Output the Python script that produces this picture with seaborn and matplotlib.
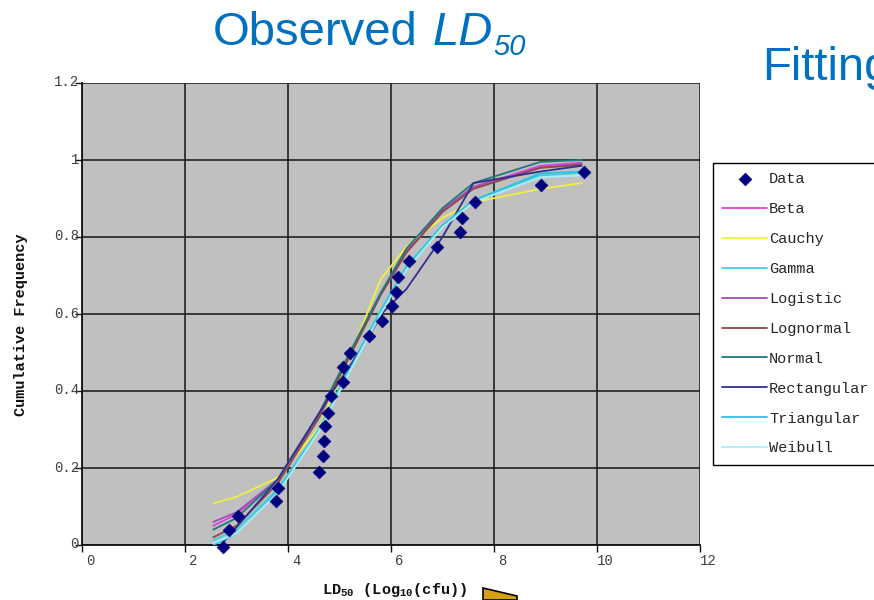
import matplotlib
matplotlib.use("Agg")
import matplotlib.pyplot as plt
import matplotlib.transforms as mtransforms
from matplotlib.patches import Polygon
import seaborn as sns
import pandas as pd

# ---------------- data ----------------
data_x = [2.73, 2.85, 3.02, 3.77, 3.81, 4.60, 4.67, 4.69, 4.71, 4.77, 4.83, 5.07, 5.07,
          5.21, 5.57, 5.83, 6.01, 6.10, 6.14, 6.34, 6.89, 7.34, 7.37, 7.63, 8.91, 9.75]
data_y = [-0.005, 0.039, 0.075, 0.114, 0.149, 0.190, 0.230, 0.270, 0.310, 0.344, 0.387, 0.424, 0.463,
          0.500, 0.543, 0.582, 0.620, 0.658, 0.695, 0.738, 0.775, 0.814, 0.850, 0.892, 0.934, 0.969]

fit_x = [2.55, 3.0, 3.8, 4.6, 5.2, 5.8, 6.3, 7.0, 7.6, 8.9, 9.7]
beta_y = [0.050, 0.080, 0.170, 0.335, 0.495, 0.650, 0.765, 0.870, 0.930, 0.985, 0.993]
cauchy_y = [0.108, 0.125, 0.175, 0.305, 0.490, 0.690, 0.775, 0.850, 0.890, 0.925, 0.940]
gamma_y = [0.012, 0.040, 0.145, 0.300, 0.460, 0.610, 0.725, 0.830, 0.895, 0.960, 0.967]
logistic_y = [0.060, 0.085, 0.170, 0.340, 0.495, 0.650, 0.760, 0.870, 0.930, 0.980, 0.990]
lognormal_y = [0.020, 0.050, 0.160, 0.330, 0.490, 0.650, 0.760, 0.865, 0.925, 0.980, 0.987]
normal_y = [0.040, 0.070, 0.170, 0.340, 0.500, 0.655, 0.770, 0.875, 0.940, 0.995, 1.000]
triangular_y = [0.000, 0.030, 0.140, 0.300, 0.455, 0.605, 0.720, 0.830, 0.895, 0.965, 0.970]
weibull_y = [0.005, 0.030, 0.135, 0.295, 0.450, 0.600, 0.715, 0.825, 0.890, 0.955, 0.960]
rect_x = [2.7, 3.8, 4.8, 5.4, 5.85, 6.3, 7.0, 7.6, 8.9, 9.7]
rect_y = [0.000, 0.170, 0.385, 0.505, 0.605, 0.665, 0.800, 0.940, 0.970, 0.985]

dist_names = ["Beta", "Cauchy", "Gamma", "Logistic", "Lognormal", "Normal",
              "Rectangular", "Triangular", "Weibull"]
dist_colors = ["#e040e0", "#f0f040", "#40d0e0", "#a050b0", "#904848", "#207878",
               "#303090", "#30c0e0", "#a8f0f8"]

x_ticks = [0, 2, 4, 6, 8, 10, 12]
x_tick_labels = ["0", "2", "4", "6", "8", "10", "12"]
y_ticks = [0, 0.2, 0.4, 0.6, 0.8, 1.0, 1.2]
y_tick_labels = ["0", "0.2", "0.4", "0.6", "0.8", "1", "1.2"]

# ---------------- style ----------------
sns.set_theme(style="white")
plt.rcParams["font.family"] = ["Liberation Mono", "DejaVu Sans"]
plt.rcParams["mathtext.fontset"] = "custom"
plt.rcParams["mathtext.rm"] = "Liberation Mono:bold"
plt.rcParams["mathtext.bf"] = "Liberation Mono:bold"
plt.rcParams["mathtext.it"] = "Liberation Mono:bold"

W, H = 874, 600
fig = plt.figure(figsize=(W / 100, H / 100), dpi=100)
ax = fig.add_axes([82 / W, 55 / H, 618 / W, 462 / H])
ax.set_facecolor("#c0c0c0")

curves = {
    "Beta": (fit_x, beta_y), "Cauchy": (fit_x, cauchy_y), "Gamma": (fit_x, gamma_y),
    "Logistic": (fit_x, logistic_y), "Lognormal": (fit_x, lognormal_y),
    "Normal": (fit_x, normal_y), "Rectangular": (rect_x, rect_y),
    "Triangular": (fit_x, triangular_y), "Weibull": (fit_x, weibull_y),
}

sns.scatterplot(x=data_x, y=data_y, marker="D", s=42, color="#000080",
                edgecolor="#000080", linewidth=0.5, ax=ax, label="Data",
                zorder=6, clip_on=False)
for name, col in zip(dist_names, dist_colors):
    xs, ys = curves[name]
    df = pd.DataFrame({"x": xs, "y": ys})
    sns.lineplot(data=df, x="x", y="y", color=col, lw=1.3, ax=ax, label=name,
                 sort=False, zorder=4)

ax.set_xlim(0, 12)
ax.set_ylim(0, 1.2)
ax.set_xticks(x_ticks)
ax.set_xticklabels(x_tick_labels)
ax.set_yticks(y_ticks)
ax.set_yticklabels(y_tick_labels)
ax.grid(True, color="#222222", lw=1.2)
ax.set_axisbelow(True)
for s in ["top", "right"]:
    ax.spines[s].set_visible(False)
for s in ["left", "bottom"]:
    ax.spines[s].set_color("#111111")
    ax.spines[s].set_linewidth(1.3)
ax.tick_params(axis="both", which="major", direction="out", length=5, width=1,
               color="#111111", labelsize=10, labelcolor="#404040", pad=1.5,
               bottom=True, left=True)
offset = mtransforms.ScaledTranslation(8 / 100, 0, fig.dpi_scale_trans)
for lab in ax.get_xticklabels():
    lab.set_transform(lab.get_transform() + offset)
yoff = mtransforms.ScaledTranslation(6 / 100, 2 / 100, fig.dpi_scale_trans)
for lab in ax.get_yticklabels():
    lab.set_transform(lab.get_transform() + yoff)

ax.set_xlabel("LD$_{50}$ (Log$_{10}$(cfu))", fontsize=11, fontweight="bold",
              color="#111111")
ax.xaxis.set_label_coords(0.505, -0.078)
ax.set_ylabel("Cumulative Frequency", fontsize=11, fontweight="bold", color="#111111")
ax.yaxis.set_label_coords(-0.088, 0.476)

handles, labels = ax.get_legend_handles_labels()
leg = ax.legend(handles, labels, loc="upper left",
                bbox_to_anchor=(713 / W, 1 - 163 / H), bbox_transform=fig.transFigure,
                frameon=True, fancybox=False, edgecolor="black", facecolor="white",
                framealpha=1, borderaxespad=0, handlelength=2.9, handletextpad=0.15,
                labelspacing=1.04, fontsize=11, borderpad=0.62)
leg.get_frame().set_linewidth(1.0)

# titles (slide text), composed of pieces
blue = "#0070c0"
fig.canvas.draw()
renderer = fig.canvas.get_renderer()
yb = 1 - 45 / H
t1 = fig.text(213 / W, yb, "Observed", fontsize=34, color=blue,
              family="Liberation Sans", va="baseline", ha="left")
x1 = t1.get_window_extent(renderer).x1 + 15
t2 = fig.text(x1 / W, yb, "LD", fontsize=34, color=blue, style="italic",
              family="Liberation Sans", va="baseline", ha="left")
x2 = t2.get_window_extent(renderer).x1 + 0
fig.text(x2 / W, yb - 10 / H, "50", fontsize=21, color=blue, style="italic",
         family="Liberation Sans", va="baseline", ha="left")
fig.text(762 / W, 1 - 80 / H, "Fitting", fontsize=34, color=blue,
         family="Liberation Sans", va="baseline", ha="left")

# decorative arrow shape at bottom of slide
shape = Polygon([(483 / W, 1 - 588 / H), (517 / W, 1 - 596 / H), (517 / W, 0), (483 / W, 0)],
                closed=True, facecolor="#d4a010", edgecolor="black", lw=1.2,
                transform=fig.transFigure, clip_on=False)
fig.patches.append(shape)

fig.savefig("out.png", dpi=100)
